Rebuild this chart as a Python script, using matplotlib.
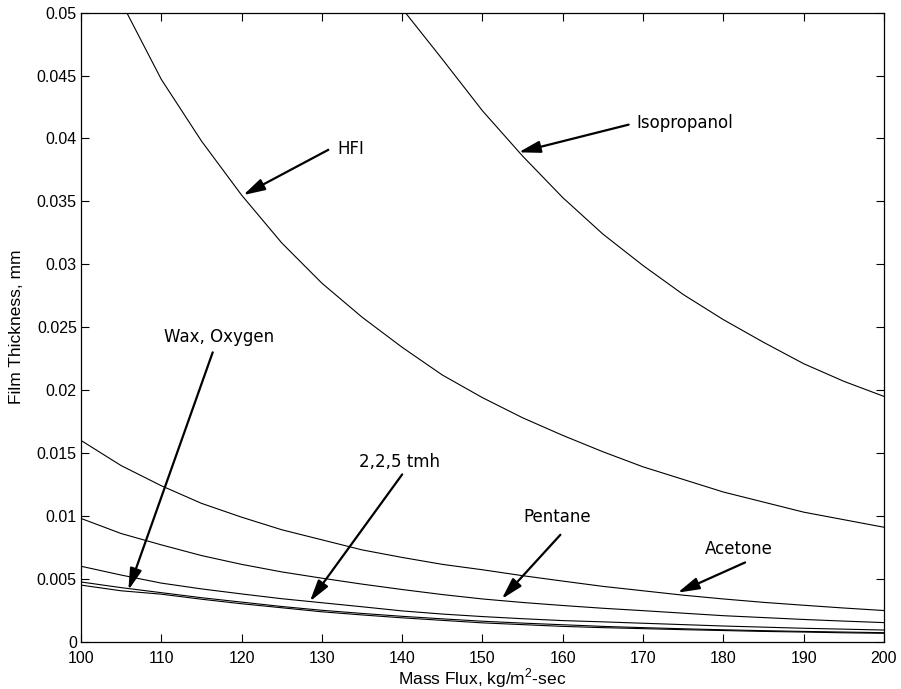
import matplotlib
matplotlib.use("Agg")
import matplotlib.pyplot as plt

# mass flux, kg/m^2-sec (common grid for the low curves)
flux = [100, 105, 110, 115, 120, 125, 130, 135, 140, 145, 150,
        155, 160, 165, 170, 175, 180, 185, 190, 195, 200]

# film thickness readings, in units of 1e-3 mm
acetone = [16.0, 14.0, 12.4, 11.0, 9.9, 8.9, 8.1, 7.3, 6.7, 6.15, 5.72,
           5.25, 4.82, 4.4, 4.05, 3.7, 3.4, 3.13, 2.9, 2.68, 2.48]
pentane = [9.8, 8.6, 7.7, 6.85, 6.15, 5.55, 5.05, 4.58, 4.15, 3.75, 3.4,
           3.12, 2.88, 2.66, 2.47, 2.27, 2.07, 1.92, 1.77, 1.64, 1.52]
tmh = [6.0, 5.3, 4.66, 4.2, 3.8, 3.42, 3.1, 2.78, 2.45, 2.2, 2.0,
       1.83, 1.68, 1.58, 1.47, 1.36, 1.25, 1.16, 1.07, 1.0, 0.93]
wax = [4.75, 4.3, 3.9, 3.5, 3.15, 2.8, 2.5, 2.25, 2.02, 1.82, 1.63,
       1.48, 1.35, 1.22, 1.12, 1.03, 0.95, 0.88, 0.82, 0.77, 0.72]
oxygen = [4.5, 4.05, 3.78, 3.38, 3.02, 2.7, 2.38, 2.13, 1.9, 1.7, 1.5,
          1.36, 1.22, 1.12, 1.04, 0.96, 0.89, 0.82, 0.77, 0.71, 0.67]

# the two steep curves start where they leave the top of the axes
hfi_flux = [105.7, 110, 115, 120, 125, 130, 135, 140, 145, 150, 155,
            160, 165, 170, 175, 180, 185, 190, 195, 200]
hfi = [50.0, 44.7, 39.8, 35.5, 31.7, 28.5, 25.8, 23.4, 21.2, 19.4, 17.8,
       16.4, 15.1, 13.9, 12.9, 11.9, 11.1, 10.3, 9.7, 9.1]
iso_flux = [140.4, 145, 150, 155, 160, 165, 170, 175, 180, 185, 190, 195, 200]
isopropanol = [50.0, 46.3, 42.2, 38.6, 35.3, 32.4, 29.9, 27.6, 25.6,
               23.8, 22.1, 20.7, 19.5]

xticks = list(range(100, 201, 10))
yticks = [0, 0.005, 0.01, 0.015, 0.02, 0.025, 0.03, 0.035, 0.04, 0.045, 0.05]
ytick_labels = ["0", "0.005", "0.01", "0.015", "0.02", "0.025", "0.03",
                "0.035", "0.04", "0.045", "0.05"]

# label text, text anchor (x, y), arrow tail, arrow tip
notes = [
    ("HFI", (131.9, 0.0392), (130.8, 0.0391), (120.2, 0.0355)),
    ("Isopropanol", (169.2, 0.0412), (168.2, 0.0411), (154.5, 0.0389)),
    ("Wax, Oxygen", (110.3, 0.0242), (116.4, 0.0230), (105.9, 0.0041)),
    ("2,2,5 tmh", (134.6, 0.0143), (140.0, 0.0133), (128.5, 0.0032)),
    ("Pentane", (155.1, 0.0099), (159.7, 0.0085), (152.4, 0.0034)),
    ("Acetone", (177.7, 0.0074), (182.7, 0.0063), (174.3, 0.0039)),
]

plt.rcParams["font.family"] = ["Liberation Sans", "DejaVu Sans"]
plt.rcParams["mathtext.fontset"] = "custom"
plt.rcParams["mathtext.rm"] = "Liberation Sans"

fig = plt.figure(figsize=(9.01, 6.89), dpi=100)
ax = fig.add_axes([0.0899, 0.0686, 0.8912, 0.913])

for xs, ys in [(flux, acetone), (flux, pentane), (flux, tmh), (flux, wax),
               (flux, oxygen), (hfi_flux, hfi), (iso_flux, isopropanol)]:
    ax.plot(xs, [v * 1e-3 for v in ys], color="black", lw=0.8)

for text, pos, tail, tip in notes:
    ax.text(pos[0], pos[1], text, fontsize=12, family="DejaVu Sans",
            ha="left", va="center")
    ax.annotate("", xy=tip, xytext=tail,
                arrowprops=dict(arrowstyle="-|>,head_length=0.65,head_width=0.18",
                                color="black", lw=1.6, mutation_scale=20,
                                shrinkA=0, shrinkB=0))

ax.set_xlim(100, 200)
ax.set_ylim(0, 0.05)
ax.set_xticks(xticks)
ax.set_yticks(yticks)
ax.set_yticklabels(ytick_labels)
ax.tick_params(direction="in", length=6, width=0.8, top=True, right=True,
               labelsize=11.5, pad=3)
ax.tick_params(axis="x", pad=7)
for s in ax.spines.values():
    s.set_linewidth(0.9)

ax.set_xlabel(r"Mass Flux, kg/m$^2$-sec", fontsize=12.5, labelpad=0)
ax.set_ylabel("Film Thickness, mm", fontsize=12.5, labelpad=9)

fig.savefig("out.png", dpi=100)
